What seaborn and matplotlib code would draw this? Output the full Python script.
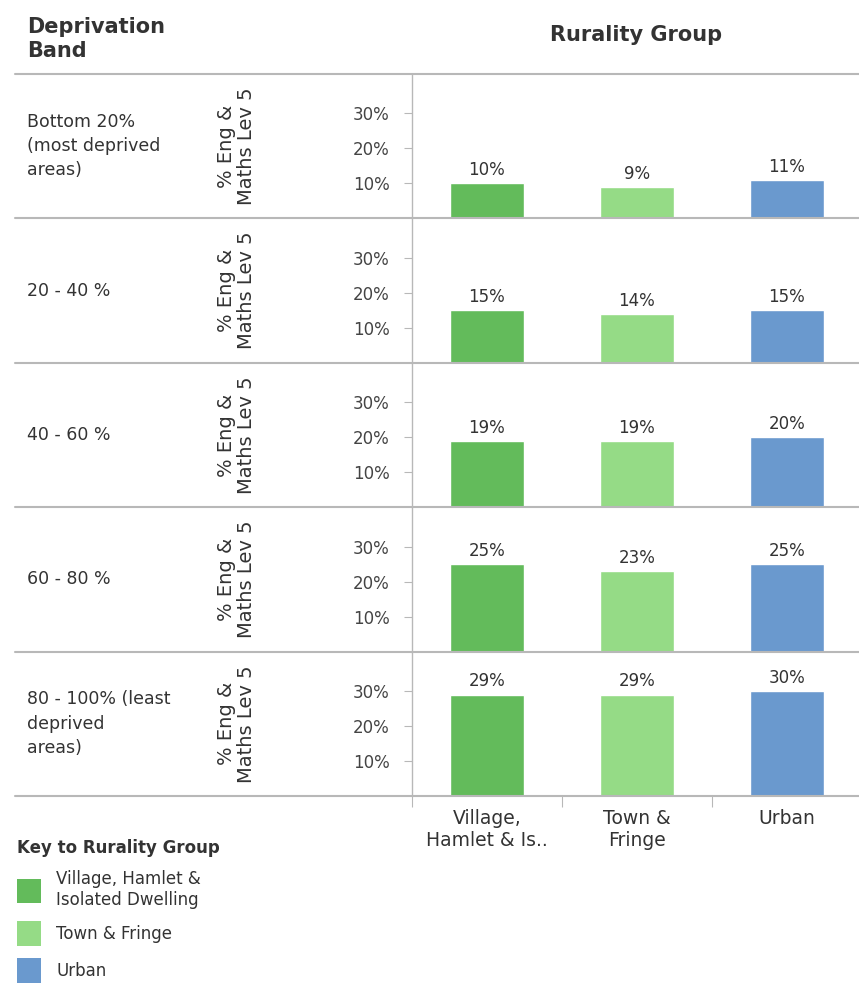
import matplotlib
matplotlib.use("Agg")
import matplotlib.pyplot as plt
from matplotlib.lines import Line2D
from matplotlib.patches import Patch
import numpy as np
import pandas as pd
import seaborn as sns

# Data
bands = ["Bottom 20%\n(most deprived\nareas)", "20 - 40 %", "40 - 60 %", "60 - 80 %",
         "80 - 100% (least\ndeprived\nareas)"]
groups = ["Village, Hamlet & Is..", "Town & Fringe", "Urban"]
group_ticklabels = ["Village,\nHamlet & Is..", "Town &\nFringe", "Urban"]
legend_labels = ["Village, Hamlet &\nIsolated Dwelling", "Town & Fringe", "Urban"]
village = [10, 15, 19, 25, 29]
town = [9, 14, 19, 23, 29]
urban = [11, 15, 20, 25, 30]
yticks = [10, 20, 30]

colors = ["#63bb5b", "#95db86", "#6a99ce"]
palette = dict(zip(groups, colors))

rows = []
for i, b in enumerate(bands):
    for g, vals in zip(groups, [village, town, urban]):
        rows.append({"band": b, "group": g, "value": vals[i]})
df = pd.DataFrame(rows)

sns.set_theme(style="white")
plt.rcParams["font.family"] = ["DejaVu Sans"]

W, H = 859, 986
fig = plt.figure(figsize=(W / 100, H / 100), dpi=100)

txt = "#333333"
grid_c = "#b8b8b8"
x0 = 412
edges = np.linspace(74, 796, 6)

axes = []
for i, b in enumerate(bands):
    top, bot = edges[i], edges[i + 1]
    ax = fig.add_axes([x0 / W, 1 - bot / H, (W - x0) / W, (bot - top) / H])
    sub = df[df["band"] == b]
    sns.barplot(data=sub, x="group", y="value", hue="group", palette=palette,
                order=groups, hue_order=groups, width=0.49, legend=False,
                ax=ax, saturation=1)
    ax.set_ylim(0, (bot - top) / 35 * 10)
    ax.set_xlim(-0.5, 2.48)
    ax.set_yticks(yticks)
    ax.set_yticklabels([f"{t}%" for t in yticks], fontsize=12, color="#444444")
    ax.tick_params(axis="y", length=6, width=0.8, color=grid_c, pad=10, left=True)
    ax.set_xlabel("")
    ax.set_ylabel("% Eng &\nMaths Lev 5", fontsize=14, color=txt, labelpad=70,
                  linespacing=1.05)
    for s in ["top", "right", "bottom"]:
        ax.spines[s].set_visible(False)
    ax.spines["left"].set_color(grid_c)
    ax.spines["left"].set_linewidth(1.0)
    for c in ax.containers:
        ax.bar_label(c, labels=[f"{v:.0f}%" for v in c.datavalues], padding=3,
                     fontsize=12, color=txt)
    if i < len(bands) - 1:
        ax.set_xticks([])
    else:
        ax.set_xticks([0, 1, 2])
        ax.set_xticklabels(group_ticklabels, fontsize=13.5, color=txt, linespacing=1.25,
                           va="top")
        ax.set_xticks([-0.5, 0.5, 1.5], minor=True)
        ax.tick_params(axis="x", which="major", length=0, pad=9)
        ax.tick_params(axis="x", which="minor", length=8, width=0.8, color=grid_c,
                       bottom=True)
    fig.text(27 / W, 1 - (top + bot) / 2 / H, b, fontsize=12.5, color=txt,
             va="center", ha="left", linespacing=1.45)
    axes.append(ax)

# Row separators
for y in edges:
    fig.add_artist(Line2D([15 / W, 1], [1 - y / H, 1 - y / H], color=grid_c, lw=1.5))

# Headers
fig.text(27 / W, 1 - 17 / H, "Deprivation\nBand", fontsize=15, fontweight="bold",
         color=txt, va="top", ha="left", linespacing=1.25)
fig.text(636 / W, 1 - 35 / H, "Rurality Group", fontsize=15, fontweight="bold",
         color=txt, va="center", ha="center")

# Key
handles = [Patch(facecolor=c, edgecolor="none") for c in colors]
leg = fig.legend(handles, legend_labels, title="Key to Rurality Group",
                 loc="upper left", bbox_to_anchor=(14 / W, 1 - 836 / H),
                 frameon=False, fontsize=12, title_fontsize=12,
                 handlelength=1.4, handleheight=1.9, handletextpad=0.95,
                 labelspacing=0.75, alignment="left", borderaxespad=0,
                 borderpad=0.2)
for t in leg.get_texts():
    t.set_color(txt)
leg.get_title().set_color(txt)
leg.get_title().set_fontweight("bold")

fig.savefig("out.png", dpi=100, facecolor="white")
